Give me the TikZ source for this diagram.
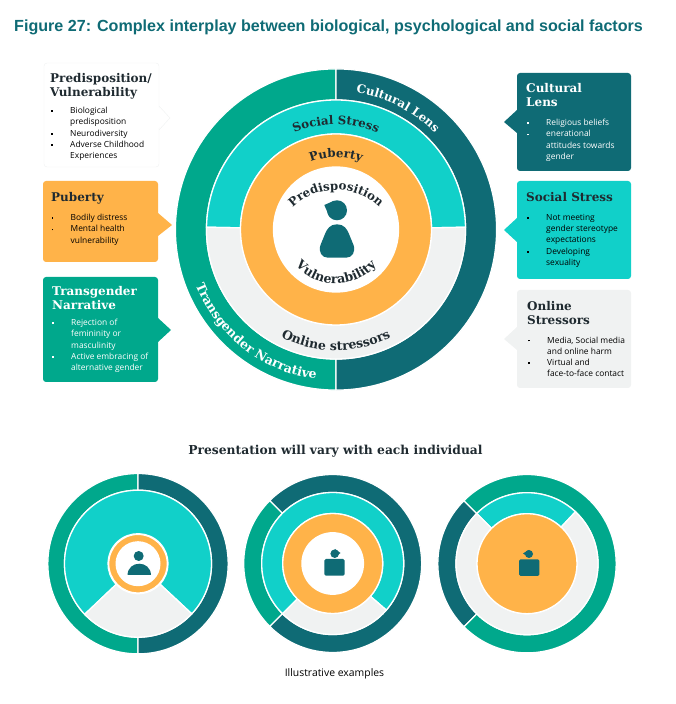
\documentclass[tikz,border=0pt]{standalone}
\usepackage{fontspec}
\setmainfont{Open Sans}
\newfontfamily\headfont{Liberation Sans}
\newfontfamily\slabfont{DejaVu Serif}
\usetikzlibrary{decorations.text}
\definecolor{deepteal}{HTML}{0F6B75}
\definecolor{leafgreen}{HTML}{00A88C}
\definecolor{brightcyan}{HTML}{11D0C9}
\definecolor{warmorange}{HTML}{FFB349}
\definecolor{palegrey}{HTML}{F0F2F2}
\definecolor{inkdark}{HTML}{1F2A30}
\tikzset{
	seg/.style={draw=white, line width=1.3pt},
	box/.style={shape=rectangle, rounded corners=3pt, minimum width=115pt, minimum height=98pt},
	boxtitle/.style={anchor=north west, align=left, inner sep=0pt, font=\slabfont\bfseries\fontsize{12}{14}\selectfont},
	boxbody/.style={anchor=north west, align=left, inner sep=0pt, font=\fontsize{8.4}{11.3}\selectfont},
	arctext/.style={decorate, decoration={text along path, text align=center, text={#1}}},
}
\newcommand{\ringseg}[7]{\filldraw[seg, fill=#7] ([shift={(#1,#2)}]#5:#3) arc[start angle=#5, end angle=#6, radius=#3] -- ([shift={(#1,#2)}]#6:#4) arc[start angle=#6, end angle=#5, radius=#4] -- cycle;}
\newcommand{\bl}{\llap{\rule[1.6pt]{1.6pt}{1.6pt}\hspace{17.5pt}}}
\newcommand{\arcfont}{\slabfont\bfseries\fontsize{11.8}{13}\selectfont}
\newcommand{\arcfontwide}{\slabfont\bfseries\fontsize{12.5}{14}\selectfont}
\begin{document}
\begin{tikzpicture}[x=1pt, y=1pt]
	\useasboundingbox (0,0) rectangle (676,704);
	% Headings:
	\node[anchor=west, inner sep=0pt, text=deepteal, font=\headfont\bfseries\fontsize{16.1}{19}\selectfont] (figtitle) at (14,676.5) {Figure 27: Complex interplay between biological, psychological and social factors};
	\node[inner sep=0pt, text=inkdark, font=\slabfont\bfseries\fontsize{12.3}{15}\selectfont] (varytitle) at (335.5,253) {Presentation will vary with each individual};
	\node[inner sep=0pt, font=\fontsize{10.4}{12}\selectfont] (examples) at (334.5,30) {Illustrative examples};
	% Left boxes:
	\filldraw[draw=palegrey, fill=white] (159,598) -- (170,586) -- (159,574);
	\node[box, draw=palegrey, fill=white, minimum height=104pt] (predbox) at (101.5,589) {};
	\fill[white] (158,597) -- (169,586) -- (158,575) -- cycle;
	\node[boxtitle, text=inkdark] (predtitle) at (50,631) {Predisposition/\\Vulnerability};
	\node[boxbody] (predbody) at (70,597) {\bl Biological\\predisposition\\\bl Neurodiversity\\\bl Adverse Childhood\\Experiences};
	\fill[warmorange] (158,491) -- (172,479) -- (158,468) -- cycle;
	\node[box, fill=warmorange, minimum height=81pt] (pubbox) at (100.5,482.5) {};
	\node[boxtitle, text=inkdark] (pubtitle) at (51,512) {Puberty};
	\node[boxbody] (pubbody) at (70.5,490) {\bl Bodily distress\\\bl Mental health\\vulnerability};
	\fill[leafgreen] (158,386) -- (171,374) -- (158,362) -- cycle;
	\node[box, fill=leafgreen, minimum height=105pt] (transbox) at (100.5,374.5) {};
	\node[boxtitle, text=white] (transtitle) at (52,418) {Transgender\\Narrative};
	\node[boxbody, text=white] (transbody) at (71,385) {\bl Rejection of\\femininity or\\masculinity\\\bl Active embracing of\\alternative gender};
	% Right boxes:
	\fill[deepteal] (517,594) -- (504,582) -- (517,571) -- cycle;
	\node[box, fill=deepteal, minimum width=114pt] (cultbox) at (574,582) {};
	\node[boxtitle, text=white] (culttitle) at (526,621) {Cultural\\Lens};
	\node[boxbody, text=white] (cultbody) at (546,585) {\bl Religious beliefs\\\bl enerational\\attitudes towards\\gender};
	\fill[brightcyan] (517,486) -- (504,474) -- (517,462) -- cycle;
	\node[box, fill=brightcyan, minimum width=114pt] (socbox) at (574,474) {};
	\node[boxtitle, text=inkdark] (soctitle) at (526,512) {Social Stress};
	\node[boxbody] (socbody) at (546,490) {\bl Not meeting\\gender stereotype\\expectations\\\bl Developing\\sexuality};
	\fill[palegrey] (517,377) -- (504,365) -- (517,354) -- cycle;
	\node[box, fill=palegrey, minimum width=114pt] (onlbox) at (574,365) {};
	\node[boxtitle, text=inkdark] (onltitle) at (527,403) {Online\\Stressors};
	\node[boxbody] (onlbody) at (547,367.5) {\bl Media, Social media\\and online harm\\\bl Virtual and\\face-to-face contact};
	% Main rings:
	\ringseg{336}{474.5}{160.6}{129.5}{90}{270}{leafgreen}
	\ringseg{336}{474.5}{160.6}{129.5}{-90}{90}{deepteal}
	\ringseg{336}{474.5}{129.5}{95.5}{1}{179}{brightcyan}
	\ringseg{336}{474.5}{129.5}{95.5}{179}{361}{palegrey}
	\filldraw[seg, fill=warmorange] (336,474.5) circle (95.5);
	\filldraw[seg, fill=white] (336,474.5) circle (62.5);
	\path[arctext={|\arcfont\color{white}|Cultural Lens}] ([shift={(336,474.5)}]153:138) arc[start angle=153, end angle=-27, radius=138];
	\path[arctext={|\arcfontwide\color{white}|Transgender Narrative}] ([shift={(336,474.5)}]142:151) arc[start angle=142, end angle=322, radius=151];
	\path[arctext={|\arcfont\color{inkdark}|Social Stress}] ([shift={(336,474.5)}]170:105) arc[start angle=170, end angle=10, radius=105];
	\path[arctext={|\arcfontwide\color{inkdark}|Online stressors}] ([shift={(336,474.5)}]190:121) arc[start angle=190, end angle=350, radius=121];
	\path[arctext={|\arcfont\color{inkdark}|Puberty}] ([shift={(336,474.5)}]170:72) arc[start angle=170, end angle=10, radius=72];
	\path[arctext={|\arcfont\color{inkdark}|Predisposition}] ([shift={(336,452)}]170:62) arc[start angle=170, end angle=10, radius=62];
	\path[arctext={|\arcfontwide\color{inkdark}|Vulnerability}] ([shift={(336,474.5)}]190:54) arc[start angle=190, end angle=350, radius=54];
	% Main figure:
	\fill[deepteal] (337,493.7) circle (10);
	\fill[deepteal] (324.3,499) -- (334,503.2) -- (329.5,487) -- cycle;
	\fill[deepteal] (337,479.7) .. controls (344,479.7) and (347,475) .. (349,470) -- (353.5,459) .. controls (356,452) and (352,446.3) .. (346,446.3) -- (328,446.3) .. controls (322,446.3) and (318,452) .. (320.5,459) -- (325,470) .. controls (327,475) and (330,479.7) .. (337,479.7) -- cycle;
	% First example:
	\ringseg{138}{140.3}{90.2}{73.5}{90}{270}{leafgreen}
	\ringseg{138}{140.3}{90.2}{73.5}{-90}{90}{deepteal}
	\ringseg{138}{140.3}{73.5}{30}{-43}{223.5}{brightcyan}
	\ringseg{138}{140.3}{73.5}{30}{223.5}{317}{palegrey}
	\filldraw[seg, fill=warmorange] (138,140.3) circle (29.3);
	\filldraw[draw=none, fill=white] (138,140.3) circle (22.5);
	\fill[deepteal] (138.7,148) circle (5);
	\fill[deepteal] (127.5,129) .. controls (128,144) and (150.5,144) .. (151,129) -- cycle;
	% Second example:
	\ringseg{332.7}{140.5}{89}{71}{135}{225}{leafgreen}
	\ringseg{332.7}{140.5}{89}{71}{225}{495}{deepteal}
	\ringseg{332.7}{140.5}{71}{50}{-41}{225}{brightcyan}
	\ringseg{332.7}{140.5}{71}{50}{225}{319}{palegrey}
	\filldraw[seg, fill=warmorange] (332.7,140.5) circle (50);
	\filldraw[draw=none, fill=white] (332.7,140.5) circle (31.4);
	\fill[deepteal] (334.7,150.3) circle (4.3);
	\fill[deepteal] (340.5,151) -- (335,155) -- (335,147) -- cycle;
	\fill[deepteal, rounded corners=1.5pt] (324.3,128.3) rectangle (344.7,145);
	% Third example:
	\ringseg{527}{140.3}{89.2}{71}{135}{225}{deepteal}
	\ringseg{527}{140.3}{89.2}{71}{225}{495}{leafgreen}
	\ringseg{527}{140.3}{71}{50}{47}{135}{brightcyan}
	\ringseg{527}{140.3}{71}{50}{135}{407}{palegrey}
	\filldraw[seg, fill=warmorange] (527,140.3) circle (50);
	\fill[deepteal] (529,150) circle (4);
	\fill[deepteal] (523,150.5) -- (528.5,154) -- (528.5,147) -- cycle;
	\fill[deepteal, rounded corners=1.5pt] (519,128) rectangle (539.3,144.7);
\end{tikzpicture}
\end{document}
